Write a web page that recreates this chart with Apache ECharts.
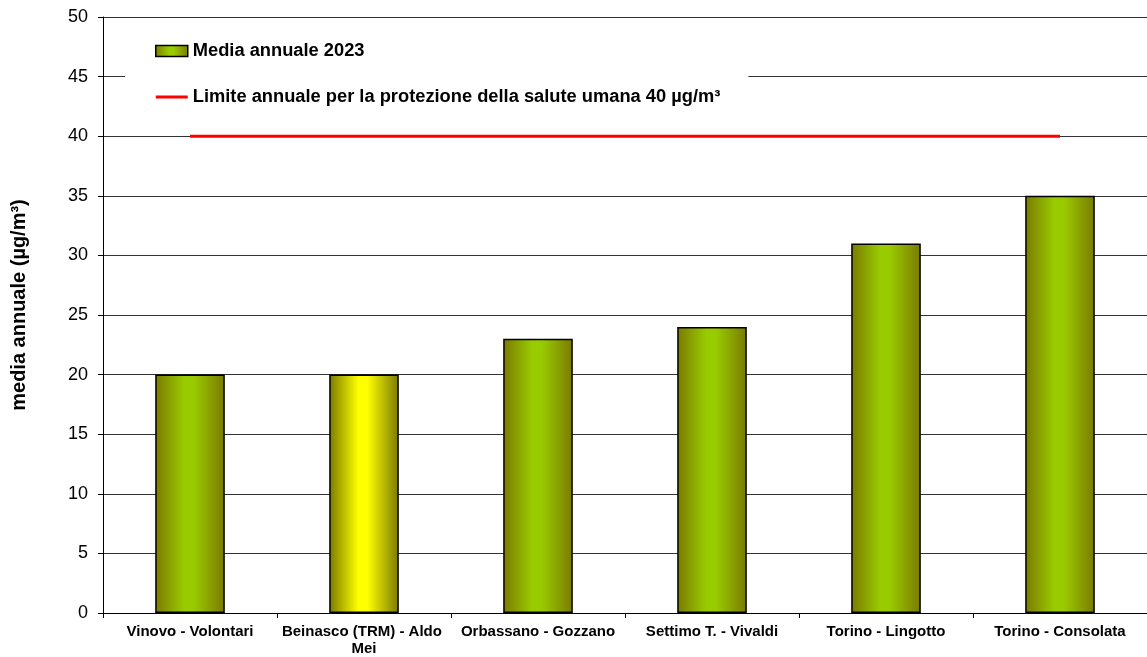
<!DOCTYPE html>
<html>
<head>
<meta charset="utf-8">
<script src="https://cdn.jsdelivr.net/npm/echarts@6/dist/echarts.min.js"></script>
<style>
html,body{margin:0;padding:0;background:#fff;}
#chart{width:1147px;height:657px;}
</style>
</head>
<body>
<div id="chart"></div>
<script>
const categories = ["Vinovo - Volontari", "Beinasco (TRM) - Aldo Mei", "Orbassano - Gozzano", "Settimo T. - Vivaldi", "Torino - Lingotto", "Torino - Consolata"];
const mediaAnnuale = [20, 20, 23, 24, 31, 35];
const limiteAnnuale = [40, 40, 40, 40, 40, 40];
const seriesNames = ["Media annuale 2023", "Limite annuale per la protezione della salute umana 40 µg/m³"];
const yAxisName = "media annuale (µg/m³)";
const highlightIndex = 1;

const FONT = "'Liberation Sans', Arial, sans-serif";
function grad(c1, c2) {
  return {
    type: 'linear', x: 0, y: 0, x2: 1, y2: 0,
    colorStops: [
      { offset: 0, color: c1 },
      { offset: 0.42, color: c2 },
      { offset: 0.55, color: c2 },
      { offset: 1, color: c1 }
    ]
  };
}
const greenGrad = grad('#7a7a00', '#99cc00');
const yellowGrad = grad('#7a7a00', '#ffff00');

const barData = mediaAnnuale.map((v, i) => ({
  value: v,
  itemStyle: { color: i === highlightIndex ? yellowGrad : greenGrad }
}));

const chart = echarts.init(document.getElementById('chart'), null, { renderer: 'canvas' });
chart.setOption({
  animation: false,
  backgroundColor: '#ffffff',
  grid: { left: 103, right: 0, top: 17, bottom: 43 },
  legend: {
    orient: 'vertical',
    left: 125,
    top: 30,
    padding: [11, 28, 10, 30],
    backgroundColor: '#ffffff',
    itemWidth: 32,
    itemHeight: 11,
    itemGap: 26,
    textStyle: { fontFamily: FONT, fontSize: 18.3, fontWeight: 'bold', color: '#000', lineHeight: 20 },
    data: [
      { name: seriesNames[0], icon: 'rect', itemStyle: { color: greenGrad, borderColor: '#000', borderWidth: 1.5 } },
      { name: seriesNames[1], icon: 'path://M0,0H32V3H0Z', itemStyle: { color: '#ff0000' } }
    ]
  },
  xAxis: {
    type: 'category',
    data: categories,
    axisLine: { lineStyle: { color: '#000', width: 1 } },
    axisTick: { show: true, length: 5, lineStyle: { color: '#000' } },
    axisLabel: {
      fontFamily: FONT, fontSize: 15, fontWeight: 'bold', color: '#000',
      margin: 10, interval: 0, width: 165, overflow: 'break', lineHeight: 17
    }
  },
  yAxis: {
    type: 'value',
    min: 0, max: 50, interval: 5,
    name: yAxisName,
    nameLocation: 'middle',
    nameGap: 74,
    nameTextStyle: { fontFamily: FONT, fontSize: 20, fontWeight: 'bold', color: '#000', padding: [0, 0, 0, 20] },
    axisLine: { show: true, lineStyle: { color: '#000', width: 1 } },
    axisTick: { show: true, length: 5, lineStyle: { color: '#000' } },
    axisLabel: { fontFamily: FONT, fontSize: 18, color: '#000', margin: 15 },
    splitLine: { lineStyle: { color: '#333', width: 1 } }
  },
  series: [
    {
      name: seriesNames[0],
      type: 'bar',
      data: barData,
      barWidth: '40%',
      itemStyle: { color: greenGrad, borderColor: '#000', borderWidth: 1.5 },
      z: 2
    },
    {
      name: seriesNames[1],
      type: 'line',
      data: limiteAnnuale,
      symbol: 'none',
      lineStyle: { color: '#ff0000', width: 3 },
      itemStyle: { color: '#ff0000' },
      z: 3
    }
  ]
});
</script>
</body>
</html>
